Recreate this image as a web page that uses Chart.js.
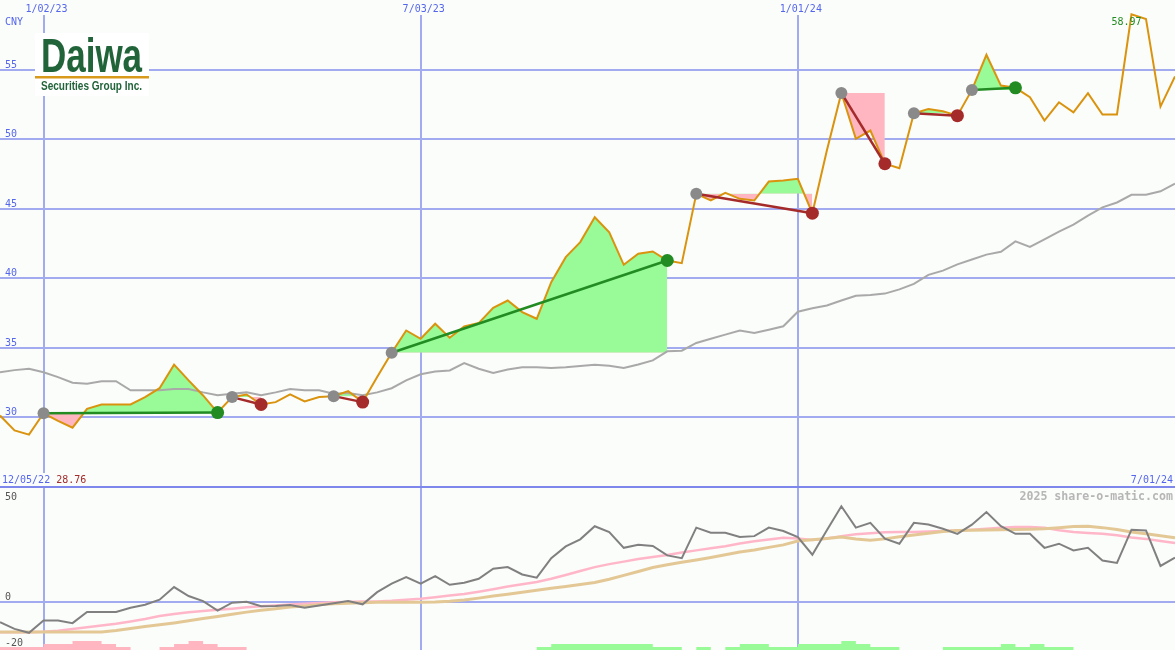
<!DOCTYPE html>
<html lang="en">
<head>
    <meta charset="UTF-8">
    <title>Daiwa Securities Group - weekly</title>
    <script src="https://cdn.jsdelivr.net/npm/chart.js"></script>
    <style>
        body {
            margin: 0;
            background-color: #fbfdfa;
            overflow: hidden;
        }
        .chart-box {
            position: relative;
            width: 1175px;
            height: 650px;
        }
    </style>
</head>
<body>

<div class="chart-box">
    <canvas id="priceChart"></canvas>
</div>

<script>
    // weekly closes, 12/12/22 .. 7/01/24
    const weeks = [
        '12/12/22', '12/19/22', '12/26/22',
        '1/02/23', '1/09/23', '1/16/23', '1/23/23', '1/30/23', '2/06/23', '2/13/23', '2/20/23', '2/27/23',
        '3/06/23', '3/13/23', '3/20/23', '3/27/23', '4/03/23', '4/10/23', '4/17/23', '4/24/23',
        '5/01/23', '5/08/23', '5/15/23', '5/22/23', '5/29/23', '6/05/23', '6/12/23', '6/19/23', '6/26/23',
        '7/03/23', '7/10/23', '7/17/23', '7/24/23', '7/31/23', '8/07/23', '8/14/23', '8/21/23', '8/28/23',
        '9/04/23', '9/11/23', '9/18/23', '9/25/23', '10/02/23', '10/09/23', '10/16/23', '10/23/23', '10/30/23',
        '11/06/23', '11/13/23', '11/20/23', '11/27/23', '12/04/23', '12/11/23', '12/18/23', '12/25/23',
        '1/01/24', '1/08/24', '1/15/24', '1/22/24', '1/29/24', '2/05/24', '2/12/24', '2/19/24', '2/26/24',
        '3/04/24', '3/11/24', '3/18/24', '3/25/24', '4/01/24', '4/08/24', '4/15/24', '4/22/24', '4/29/24',
        '5/06/24', '5/13/24', '5/20/24', '5/27/24', '6/03/24', '6/10/24', '6/17/24', '6/24/24', '7/01/24'
    ];

    const price = [
        30.14, 29.07, 28.76, 30.30, 29.75, 29.26, 30.62, 30.93, 30.93, 30.93,
        31.46, 32.10, 33.79, 32.66, 31.58, 30.35, 31.46, 31.65, 30.93, 31.10,
        31.65, 31.15, 31.46, 31.53, 31.89, 31.10, 32.90, 34.65, 36.25, 35.65,
        36.73, 35.73, 36.54, 36.78, 37.88, 38.40, 37.57, 37.09, 39.72, 41.52,
        42.60, 44.39, 43.31, 40.97, 41.76, 41.93, 41.28, 41.09, 46.07, 45.59,
        46.14, 45.71, 45.59, 46.95, 47.03, 47.15, 44.68, 49.18, 53.32, 50.02,
        50.62, 48.23, 47.91, 51.86, 52.17, 52.00, 51.69, 53.54, 56.06, 53.85,
        53.69, 53.01, 51.34, 52.65, 51.93, 53.30, 51.77, 51.77, 58.97, 58.64,
        52.34, 54.50
    ];

    const priceAvg = [
        33.25, 33.40, 33.50, 33.25, 32.90, 32.50, 32.42, 32.60, 32.60, 31.95,
        31.95, 31.95, 32.05, 32.05, 31.80, 31.60, 31.70, 31.80, 31.60, 31.80,
        32.05, 31.95, 31.95, 31.70, 31.75, 31.60, 31.80, 32.10, 32.66, 33.10,
        33.30, 33.38, 33.90, 33.50, 33.20, 33.45, 33.60, 33.60, 33.55, 33.60,
        33.70, 33.78, 33.72, 33.55, 33.80, 34.10, 34.75, 34.80, 35.35, 35.65,
        35.95, 36.25, 36.07, 36.30, 36.55, 37.60, 37.85, 38.05, 38.40, 38.75,
        38.80, 38.90, 39.20, 39.60, 40.25, 40.55, 41.00, 41.35, 41.70, 41.90,
        42.65, 42.25, 42.80, 43.35, 43.85, 44.50, 45.10, 45.45, 46.00, 46.00,
        46.25, 46.80
    ];

    // lower panel
    const osc = [
        -8.9, -11.8, -13.5, -8.1, -8.2, -9.3, -4.4, -4.4, -4.4, -2.6,
        -1.3, 0.9, 6.4, 2.5, 0.3, -3.8, -0.4, 0.0, -1.9, -1.8,
        -1.4, -2.6, -1.6, -0.6, 0.3, -1.1, 4.2, 7.9, 10.8, 7.9,
        11.2, 7.4, 8.3, 10.0, 14.4, 15.1, 11.9, 10.5, 19.0, 24.1,
        27.2, 32.9, 30.4, 23.5, 24.8, 24.3, 20.2, 19.0, 32.3, 30.1,
        30.1, 28.2, 28.6, 32.3, 30.8, 28.2, 20.5, 31.2, 41.6, 32.3,
        34.4, 27.5, 25.3, 34.4, 33.7, 31.8, 29.6, 33.6, 39.1, 32.9,
        29.6, 29.6, 23.5, 25.3, 22.4, 23.5, 18.0, 16.9, 31.4, 31.1,
        15.6, 19.2
    ];

    const oscFast = [
        -13.3, -13.3, -13.3, -13.1, -12.6, -11.9, -11.1, -10.3, -9.6, -8.6,
        -7.5, -6.2, -5.3, -4.6, -4.0, -3.5, -3.0, -2.4, -1.9, -1.6,
        -1.2, -0.8, -0.5, -0.2, -0.1, 0.1, 0.1, 0.4, 0.9, 1.3,
        2.0, 2.7, 3.4, 4.4, 5.5, 6.7, 7.6, 8.6, 10.0, 11.7,
        13.4, 15.1, 16.4, 17.5, 18.6, 19.5, 20.4, 21.5, 22.4, 23.3,
        24.2, 25.4, 26.4, 27.1, 27.9, 27.6, 26.9, 27.6, 28.6, 29.4,
        29.9, 30.3, 30.4, 30.4, 30.6, 30.8, 31.1, 31.4, 31.8, 32.3,
        32.6, 32.6, 32.2, 31.2, 30.4, 30.0, 29.6, 29.0, 28.0, 27.4,
        26.5, 25.6
    ];

    const oscSlow = [
        -13.2, -13.2, -13.2, -13.2, -13.2, -13.2, -13.2, -13.2, -12.5, -11.6,
        -10.8, -10.0, -9.2, -8.3, -7.3, -6.4, -5.4, -4.5, -3.7, -3.0,
        -2.3, -1.8, -1.3, -0.9, -0.6, -0.4, -0.2, -0.2, -0.2, -0.2,
        -0.1, 0.2, 0.8, 1.6, 2.5, 3.3, 4.2, 5.0, 5.9, 6.7,
        7.5, 8.4, 9.8, 11.5, 13.2, 14.9, 16.1, 17.2, 18.2, 19.3,
        20.5, 21.7, 22.6, 23.7, 24.8, 26.5, 27.0, 27.6, 28.2, 27.4,
        26.8, 27.4, 28.3, 29.1, 29.9, 30.6, 31.0, 31.2, 31.3, 31.4,
        31.5, 31.6, 31.8, 32.3, 32.8, 32.9, 32.3, 31.5, 30.4, 29.6,
        28.8, 27.9
    ];

    // bar levels at the bottom, negative = pink, positive = green
    const histLevel = [
        -1, -1, -1, -1, -2, -2, -3, -3, -2, -1,
        0, 0, -1, -2, -3, -2, -1, -1, 0, 0,
        0, 0, 0, 0, 0, 0, 0, 0, 0, 0,
        0, 0, 0, 0, 0, 0, 0, 0, 1, 2,
        2, 2, 2, 2, 2, 2, 1, 1, 0, 1,
        0, 1, 2, 2, 1, 1, 2, 2, 2, 3,
        2, 1, 1, 0, 0, 0, 1, 1, 1, 1,
        2, 1, 2, 1, 1, 0, 0, 0, 0, 0,
        0, 0
    ];

    // trades: index of entry week and exit week
    const tradeOpen = [3, 16, 23, 27, 48, 58, 63, 67];
    const tradeClose = [15, 18, 25, 46, 56, 61, 66, 70];

    const gridDates = ['1/02/23', '7/03/23', '1/01/24'];
    const priceTicks = [30, 35, 40, 45, 50, 55];
    const oscTicks = [50, 0, -20];
    const rangeStart = '12/05/22';
    const rangeEnd = '7/01/24';

    const BG = '#fbfdfa';
    const GRID = '#a2abf0';
    const WIN = '#228b22';
    const LOSS = '#a52a2a';

    const tradeSets = [];
    const fillSets = [];
    tradeOpen.forEach((a, k) => {
        const b = tradeClose[k];
        const win = price[b] > price[a];
        const col = win ? WIN : LOSS;
        tradeSets.push({
            data: price.map((v, i) => (i === a || i === b) ? v : null),
            yAxisID: 'y',
            borderColor: col,
            borderWidth: 2.5,
            spanGaps: true,
            pointRadius: ctx => ctx.dataIndex === a ? 6 : 6.5,
            pointBorderWidth: 0,
            pointBackgroundColor: ctx => ctx.dataIndex === a ? '#8a8a8a' : col
        });
        fillSets.push({
            data: price.map((v, i) => (i >= a && i <= b) ? v : null),
            yAxisID: 'y',
            borderWidth: 0,
            borderColor: 'rgba(0,0,0,0)',
            pointRadius: 0,
            fill: { target: { value: price[a] }, above: '#98fb98', below: '#ffb6c1' }
        });
    });

    const overlay = {
        id: 'overlay',
        afterDraw(chart) {
            const { ctx, scales: { x, y, y2 } } = chart;
            const mono = '10px "DejaVu Sans Mono", monospace';
            ctx.save();
            ctx.textBaseline = 'alphabetic';
            ctx.textAlign = 'left';

            function label(text, px, py, color, align, font, noBg) {
                ctx.font = font || mono;
                const w = ctx.measureText(text).width;
                const left = align === 'center' ? px - w / 2 : (align === 'right' ? px - w : px);
                if (!noBg) {
                    ctx.fillStyle = BG;
                    ctx.fillRect(left - 1, py - 10, w + 2, 13);
                }
                ctx.fillStyle = color;
                ctx.fillText(text, left, py);
                return left + w;
            }

            // dates on top of the vertical lines
            gridDates.forEach(d => {
                const px = x.getPixelForValue(weeks.indexOf(d));
                ctx.fillStyle = BG;
                ctx.fillRect(px - 3, 0, 6, 15);
                label(d, px + 3, 12, '#5566ee', 'center');
            });

            label('CNY', 5, 25, '#5566ee', 'left', null, true);
            priceTicks.forEach(v => label(String(v), 5, y.getPixelForValue(v) - 2, '#5566ee', 'left', null, true));

            // bottom line of the price panel
            const lowY = y.bottom - 4;
            const end = label(rangeStart, 2, lowY, '#5566ee');
            label(Math.min(...price).toFixed(2), end + 6, lowY, LOSS);
            label(rangeEnd, chart.width - 2, lowY, '#5566ee', 'right');

            // high of the period
            const hi = Math.max(...price);
            const hiIdx = price.indexOf(hi);
            label(hi.toFixed(2), x.getPixelForValue(hiIdx) - 5, y.getPixelForValue(hi) + 11, WIN, 'center', null, true);

            // lower panel labels
            oscTicks.forEach(v => {
                const py = Math.min(Math.max(y2.getPixelForValue(v) - 2, y2.top + 13), y2.bottom - 3);
                label(String(v), 5, py, '#555555', 'left', null, true);
            });
            label('2025 share-o-matic.com', chart.width - 2, y2.top + 13, '#b6b6b6', 'right',
                'bold 11.6px "DejaVu Sans Mono", monospace', true);

            // logo
            ctx.fillStyle = '#ffffff';
            ctx.fillRect(35, 33, 114, 63);
            function fitText(text, font, left, base, width) {
                ctx.font = font;
                const w = ctx.measureText(text).width;
                ctx.save();
                ctx.translate(left, base);
                ctx.scale(width / w, 1);
                ctx.fillText(text, 0, 0);
                ctx.restore();
            }
            ctx.fillStyle = '#21643a';
            fitText('Daiwa', 'bold 48px "Liberation Sans", Arial, sans-serif', 41, 72, 101);
            ctx.fillStyle = '#d9991a';
            ctx.fillRect(35, 76, 114, 2.5);
            ctx.fillStyle = '#21643a';
            fitText('Securities Group Inc.', 'bold 13px "Liberation Sans", Arial, sans-serif', 41, 90, 101);

            ctx.restore();
        }
    };

    const ctx1 = document.getElementById('priceChart').getContext('2d');
    const priceChart = new Chart(ctx1, {
        type: 'line',
        data: {
            labels: weeks,
            datasets: [
                ...tradeSets,
                {
                    label: 'Price',
                    data: price,
                    yAxisID: 'y',
                    borderColor: '#da930e',
                    borderWidth: 2,
                    pointRadius: 0
                },
                {
                    label: 'Average',
                    data: priceAvg,
                    yAxisID: 'y',
                    borderColor: '#a9a9a9',
                    borderWidth: 2,
                    pointRadius: 0
                },
                ...fillSets,
                {
                    data: osc,
                    yAxisID: 'y2',
                    borderColor: '#808080',
                    borderWidth: 2,
                    pointRadius: 0
                },
                {
                    data: oscSlow,
                    yAxisID: 'y2',
                    borderColor: '#e3c896',
                    borderWidth: 3,
                    pointRadius: 0
                },
                {
                    data: oscFast,
                    yAxisID: 'y2',
                    borderColor: '#ffb6c8',
                    borderWidth: 2.5,
                    pointRadius: 0
                },
                {
                    data: histLevel.map(v => Math.max(v, 0)),
                    yAxisID: 'yh',
                    stepped: 'after',
                    borderWidth: 0,
                    borderColor: 'rgba(0,0,0,0)',
                    backgroundColor: '#98fb98',
                    pointRadius: 0,
                    fill: 'origin'
                },
                {
                    data: histLevel.map(v => Math.max(-v, 0)),
                    yAxisID: 'yh',
                    stepped: 'after',
                    borderWidth: 0,
                    borderColor: 'rgba(0,0,0,0)',
                    backgroundColor: '#ffb6c1',
                    pointRadius: 0,
                    fill: 'origin'
                }
            ]
        },
        options: {
            responsive: true,
            maintainAspectRatio: false,
            animation: false,
            events: [],
            layout: { padding: 0, autoPadding: false },
            plugins: {
                legend: { display: false },
                tooltip: { enabled: false }
            },
            scales: {
                x: {
                    type: 'category',
                    offset: false,
                    border: { display: false },
                    ticks: { display: false, autoSkip: false },
                    grid: {
                        drawTicks: false,
                        lineWidth: 2,
                        color: c => gridDates.includes(weeks[c.index]) ? GRID : 'rgba(0,0,0,0)'
                    }
                },
                y: {
                    position: 'left',
                    stack: 'panels',
                    stackWeight: 487,
                    weight: 2,
                    min: 25,
                    max: 60,
                    afterBuildTicks: s => { s.ticks = [25, ...priceTicks].map(v => ({ value: v })); },
                    border: { display: false },
                    ticks: { display: false },
                    grid: {
                        drawTicks: false,
                        lineWidth: 2,
                        color: c => c.tick && c.tick.value === 25 ? '#7d87ec' : GRID
                    }
                },
                y2: {
                    position: 'left',
                    stack: 'panels',
                    stackWeight: 163,
                    weight: 1,
                    min: -21,
                    max: 50,
                    afterBuildTicks: s => { s.ticks = [{ value: 0 }]; },
                    border: { display: false },
                    ticks: { display: false },
                    grid: { drawTicks: false, lineWidth: 2, color: GRID }
                },
                yh: {
                    display: false,
                    position: 'right',
                    min: 0,
                    max: 216
                }
            }
        },
        plugins: [overlay]
    });
</script>

</body>
</html>
